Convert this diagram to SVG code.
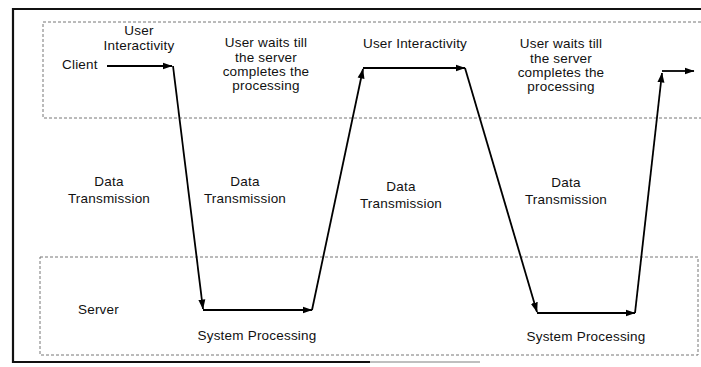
<svg xmlns="http://www.w3.org/2000/svg" width="701" height="367" viewBox="0 0 701 367">
  <style>
    text { font-family: "Liberation Sans", Arial, sans-serif; font-size: 13.5px; letter-spacing: 0.2px; fill: #111; }
    .c { text-anchor: middle; }
    .frame { fill: none; stroke: #111; stroke-width: 2.2; }
    .frame-faded { fill: none; stroke: #aaa; stroke-width: 1.5; }
    .lane { fill: none; stroke: #777; stroke-width: 1; stroke-dasharray: 3 2; }
    .flow { fill: none; stroke: #000; stroke-width: 1.8; marker-end: url(#head); }
  </style>
  <defs>
    <marker id="head" markerUnits="userSpaceOnUse" markerWidth="10" markerHeight="8" refX="9.5" refY="4" orient="auto">
      <path d="M0,0.5 L10,4 L0,7.5 z" fill="#000"/>
    </marker>
  </defs>

  <rect x="0" y="0" width="701" height="367" fill="#fff"/>

  <!-- outer frame -->
  <g id="frame">
    <path class="frame" d="M701,9 L13,9 L13,362 L370,362"/>
    <path class="frame-faded" d="M370,362 L480,362"/>
  </g>

  <!-- swim lanes -->
  <g id="client-lane">
    <path class="lane" d="M701,22 L43,22 L43,118 L701,118"/>
    <text x="62" y="69">Client</text>
  </g>
  <g id="server-lane">
    <rect class="lane" x="40" y="257" width="658" height="98"/>
    <text x="78" y="314">Server</text>
  </g>

  <!-- phase labels -->
  <g id="interactivity-1">
    <text class="c" x="139" y="35">User</text>
    <text class="c" x="139" y="50">Interactivity</text>
  </g>
  <g id="waiting-1">
    <text class="c" x="266" y="47">User waits till</text>
    <text class="c" x="266" y="61.5">the server</text>
    <text class="c" x="266" y="76">completes the</text>
    <text class="c" x="266" y="90">processing</text>
  </g>
  <g id="interactivity-2">
    <text class="c" x="415" y="48">User Interactivity</text>
  </g>
  <g id="waiting-2">
    <text class="c" x="561" y="48">User waits till</text>
    <text class="c" x="561" y="62.5">the server</text>
    <text class="c" x="561" y="77">completes the</text>
    <text class="c" x="561" y="91">processing</text>
  </g>
  <g id="transmission-1">
    <text class="c" x="109" y="186">Data</text>
    <text class="c" x="109" y="203">Transmission</text>
  </g>
  <g id="transmission-2">
    <text class="c" x="245" y="186">Data</text>
    <text class="c" x="245" y="203">Transmission</text>
  </g>
  <g id="transmission-3">
    <text class="c" x="401" y="191">Data</text>
    <text class="c" x="401" y="208">Transmission</text>
  </g>
  <g id="transmission-4">
    <text class="c" x="566" y="187">Data</text>
    <text class="c" x="566" y="204">Transmission</text>
  </g>
  <g id="processing-1">
    <text class="c" x="257" y="340">System Processing</text>
  </g>
  <g id="processing-2">
    <text class="c" x="586" y="341">System Processing</text>
  </g>

  <!-- request / response flow -->
  <g id="connectors">
    <path class="flow" d="M107,66 L172,66"/>
    <path class="flow" d="M173,66 L203,309"/>
    <path class="flow" d="M203,310 L312,310"/>
    <path class="flow" d="M312,310 L363,69"/>
    <path class="flow" d="M363,68 L465,68"/>
    <path class="flow" d="M465,68 L537,312"/>
    <path class="flow" d="M537,313 L635,313"/>
    <path class="flow" d="M635,313 L662,73"/>
    <path class="flow" d="M662,71 L694,71"/>
  </g>
</svg>
